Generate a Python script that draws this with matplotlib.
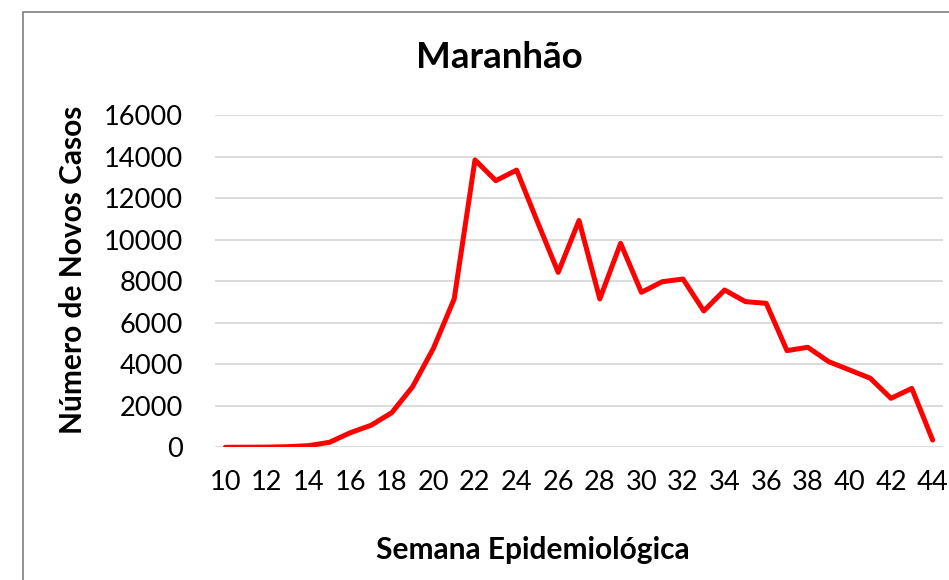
import matplotlib.pyplot as plt
from matplotlib.patches import Rectangle

# Maranhão - novos casos por semana epidemiológica
semanas = list(range(10, 45))
casos = [0, 5, 10, 30, 80, 240, 700, 1060, 1670, 2920,
         4770, 7150, 13850, 12850, 13360, 10870, 8430, 10930, 7150, 9830,
         7470, 7980, 8110, 6570, 7580, 7020, 6940, 4660, 4820, 4130,
         3730, 3330, 2360, 2840, 350]
xticks = list(range(10, 45, 2))
yticks = list(range(0, 16001, 2000))

plt.rcParams['font.family'] = ['Lato', 'DejaVu Sans']

W, H = 949, 580
fig = plt.figure(figsize=(W / 100, H / 100), dpi=100)

# chart border (cut off at right and bottom)
fig.patches.append(Rectangle((23 / W, -0.1), 1.2, 1 - 12 / H + 0.1,
                             transform=fig.transFigure, fill=False,
                             edgecolor='#7f7f7f', linewidth=1.2))

ax = fig.add_axes([215 / W, 1 - 447.3 / H, (943 - 215) / W, (447.3 - 115.3) / H])
ax.plot(semanas, casos, color='#ff0000', linewidth=3.6,
        solid_capstyle='round', solid_joinstyle='round', zorder=3)

ax.set_xlim(9.5, 44.5)
ax.set_ylim(0, 16000)
ax.set_xticks(xticks)
ax.set_yticks(yticks)
ax.tick_params(length=0, labelsize=19.6, colors='black')
ax.tick_params(axis='x', pad=16)
ax.tick_params(axis='y', pad=23)
ax.grid(axis='y', color='#d9d9d9', linewidth=1.3)
ax.set_axisbelow(True)
for s in ax.spines.values():
    s.set_visible(False)

fig.text(499 / W, 1 - 58 / H, 'Maranhão', ha='center', va='center',
         fontsize=26.5, fontweight='bold')
fig.text(533 / W, 1 - 550 / H, 'Semana Epidemiológica', ha='center', va='center',
         fontsize=21.5, fontweight='bold')
fig.text(73 / W, 1 - 270 / H, 'Número de Novos Casos', ha='center', va='center',
         rotation=90, fontsize=21.5, fontweight='bold')

fig.savefig('out.png', dpi=100)
